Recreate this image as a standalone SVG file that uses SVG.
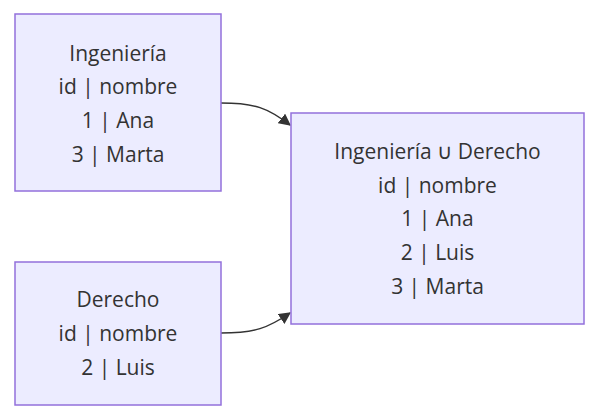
<svg xmlns="http://www.w3.org/2000/svg" width="598" height="416" viewBox="0 0 598 416">
<style>
.node rect{fill:#ECECFF;stroke:#9370DB;stroke-width:1.5}
.node text{font-family:"Trebuchet MS","Open Sans",sans-serif;font-size:21px;fill:#333;text-anchor:middle;dominant-baseline:central}
.edge{fill:none;stroke:#333;stroke-width:1.5}
</style>
<defs>
<marker id="arrow" viewBox="0 0 10 10" refX="9" refY="5" markerWidth="12" markerHeight="12" markerUnits="userSpaceOnUse" orient="auto">
<path d="M0,0 L10,5 L0,10 z" fill="#333"/>
</marker>
</defs>
<rect width="598" height="416" fill="#fff"/>
<g id="connectors">
<path class="edge" d="M221,103 C255,103 268,108 290,125" marker-end="url(#arrow)"/>
<path class="edge" d="M221,333 C255,333 268,328 290,313" marker-end="url(#arrow)"/>
</g>
<g id="ingenieria" class="node">
<rect x="15" y="14" width="206" height="177"/>
<text x="118" y="53">Ingeniería</text>
<text x="118" y="86">id | nombre</text>
<text x="118" y="120">1 | Ana</text>
<text x="118" y="154">3 | Marta</text>
</g>
<g id="derecho" class="node">
<rect x="15" y="262" width="206" height="143"/>
<text x="118" y="299">Derecho</text>
<text x="118" y="333">id | nombre</text>
<text x="118" y="367">2 | Luis</text>
</g>
<g id="union" class="node">
<rect x="291" y="113" width="293" height="211"/>
<text x="437.5" y="151">Ingeniería ∪ Derecho</text>
<text x="437.5" y="185">id | nombre</text>
<text x="437.5" y="218">1 | Ana</text>
<text x="437.5" y="252">2 | Luis</text>
<text x="437.5" y="286">3 | Marta</text>
</g>
</svg>
